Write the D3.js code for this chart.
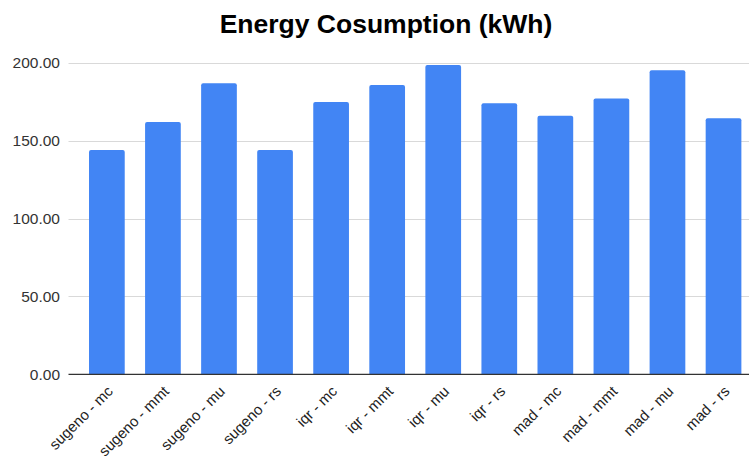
<!DOCTYPE html>
<html>
<head>
<meta charset="utf-8">
<script src="https://cdn.jsdelivr.net/npm/d3@7"></script>
<style>
  html, body { margin: 0; padding: 0; background: #fff; }
  svg { display: block; font-family: "Liberation Sans", Arial, sans-serif; }
</style>
</head>
<body>
<svg id="chart" width="750" height="457"></svg>
<script>
// Energy use per method / variant combination
const categories = [
  "sugeno - mc", "sugeno - mmt", "sugeno - mu", "sugeno - rs",
  "iqr - mc", "iqr - mmt", "iqr - mu", "iqr - rs",
  "mad - mc", "mad - mmt", "mad - mu", "mad - rs"
];
const energyKWh = [144.0, 161.9, 186.8, 144.0, 174.8, 185.7, 198.5, 173.9, 166.0, 177.1, 195.1, 164.3];
const yTicks = [0, 50, 100, 150, 200];
const chartTitle = "Energy Cosumption (kWh)";

const svg = d3.select("#chart");
const plot = { left: 68.5, right: 749, top: 62.7, bottom: 374.3 };

const x = d3.scaleBand()
  .domain(categories)
  .range([plot.left, 761.9])
  .paddingInner(0.363)
  .paddingOuter(0.366);

const y = d3.scaleLinear()
  .domain([0, 200])
  .range([plot.bottom, plot.top]);

// Title
svg.append("text")
  .attr("x", 386)
  .attr("y", 33)
  .attr("text-anchor", "middle")
  .attr("font-size", 26.5)
  .attr("font-weight", "bold")
  .attr("fill", "#000")
  .text(chartTitle);

// Horizontal gridlines
svg.append("g")
  .selectAll("line")
  .data(yTicks.filter(d => d !== 0))
  .join("line")
  .attr("x1", plot.left)
  .attr("x2", plot.right)
  .attr("y1", d => Math.round(y(d)) + 0.5)
  .attr("y2", d => Math.round(y(d)) + 0.5)
  .attr("stroke", "#d9d9d9")
  .attr("stroke-width", 1.2);

// Y axis labels
const yAxis = d3.axisLeft(y)
  .tickValues(yTicks)
  .tickFormat(d3.format(".2f"))
  .tickSize(0)
  .tickPadding(8.5);
const gy = svg.append("g")
  .attr("transform", `translate(${plot.left},0)`)
  .call(yAxis);
gy.select(".domain").remove();
gy.selectAll("text")
  .attr("font-size", 15.5)
  .attr("font-family", "Liberation Sans, Arial, sans-serif")
  .attr("fill", "#333");

// Bars with slightly rounded tops
const r = 2;
svg.append("g")
  .selectAll("path")
  .data(categories.map((c, i) => ({ c, v: energyKWh[i] })))
  .join("path")
  .attr("fill", "#4285f4")
  .attr("d", d => {
    const x0 = x(d.c), w = x.bandwidth();
    const yt = y(d.v), yb = y(0);
    return `M${x0},${yb} L${x0},${yt + r} Q${x0},${yt} ${x0 + r},${yt} ` +
           `L${x0 + w - r},${yt} Q${x0 + w},${yt} ${x0 + w},${yt + r} L${x0 + w},${yb} Z`;
  });

// Baseline
svg.append("line")
  .attr("x1", plot.left)
  .attr("x2", plot.right)
  .attr("y1", y(0))
  .attr("y2", y(0))
  .attr("stroke", "#333")
  .attr("stroke-width", 1.3);

// Rotated category labels
svg.append("g")
  .selectAll("text")
  .data(categories)
  .join("text")
  .attr("transform", d => `translate(${x(d) + x.bandwidth() / 2 + 7},${y(0) + 18}) rotate(-45)`)
  .attr("text-anchor", "end")
  .attr("font-size", 15)
  .attr("fill", "#222")
  .text(d => d);
</script>
</body>
</html>
